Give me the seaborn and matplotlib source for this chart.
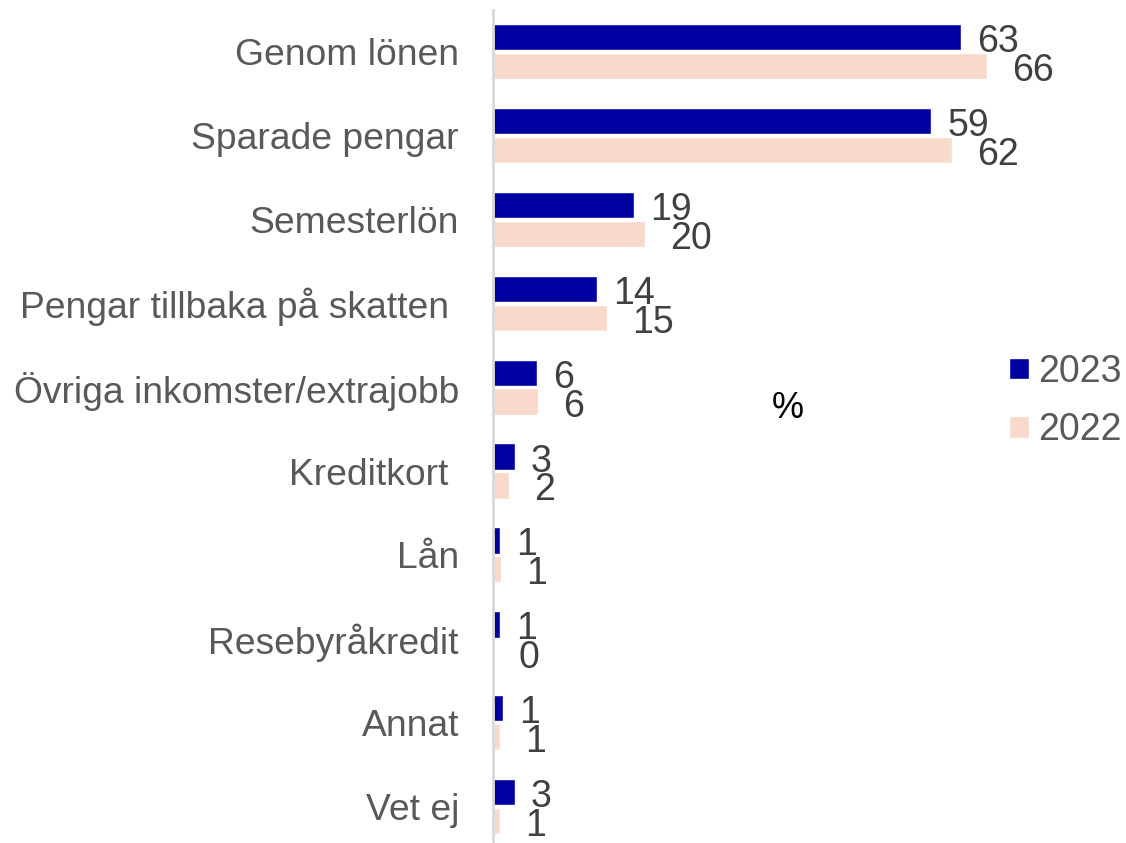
import pandas as pd
import matplotlib
matplotlib.use('Agg')
import matplotlib.pyplot as plt
import seaborn as sns

# Data (percent)
categories = ['Genom lönen', 'Sparade pengar', 'Semesterlön',
              'Pengar tillbaka på skatten ', 'Övriga inkomster/extrajobb',
              'Kreditkort ', 'Lån', 'Resebyråkredit', 'Annat', 'Vet ej']
years = ['2023', '2022']
values_2023 = [62.8, 58.8, 18.9, 14.0, 5.9, 2.95, 0.94, 0.94, 1.34, 2.95]
values_2022 = [66.3, 61.6, 20.4, 15.3, 6.0, 2.15, 1.1, 0.0, 0.94, 0.94]
colors = ['#0000A0', '#F9D9CC']

df = pd.DataFrame({
    'kategori': categories * 2,
    'år': [years[0]] * len(categories) + [years[1]] * len(categories),
    'procent': values_2023 + values_2022,
})

sns.set_style('white')
plt.rcParams['font.family'] = ['Liberation Sans', 'DejaVu Sans']

fig = plt.figure(figsize=(11.26, 8.43), dpi=100)
ax = fig.add_axes([493 / 1126, 0, 1 - 493 / 1126, 1 - 10 / 843])

sns.barplot(data=df, x='procent', y='kategori', hue='år', hue_order=years,
            palette=colors, orient='h', width=0.69, gap=0.1, ax=ax,
            saturation=1)

ax.set_xlim(0, 633 / 7.45)
ax.set_ylim(9.43, -0.49)
ax.set_xlabel('')
ax.set_ylabel('')
ax.set_xticks([])
ax.tick_params(axis='y', length=0, pad=24.5, labelsize=26.8, labelcolor='#595959')
for side in ['top', 'right', 'bottom']:
    ax.spines[side].set_visible(False)
ax.spines['left'].set_color('#D9D9D9')
ax.spines['left'].set_linewidth(2)

# value labels
offsets = [16, 25]
for cont, off in zip(ax.containers, offsets):
    for bar in cont:
        w = bar.get_width()
        ax.annotate(f'{w:.0f}', xy=(w, bar.get_y() + bar.get_height() / 2),
                    xytext=(off, -1), textcoords='offset pixels',
                    ha='left', va='center_baseline', fontsize=27, color='#404040')

handles, labels = ax.get_legend_handles_labels()
ax.legend(handles, labels, loc='center left',
          bbox_to_anchor=(1009 / 1126, 1 - 401 / 843),
          bbox_transform=fig.transFigure, frameon=False, fontsize=27,
          labelcolor='#595959', handlelength=0.52, handleheight=0.52,
          handletextpad=0.25, labelspacing=0.6, borderpad=0, borderaxespad=0)

fig.text(788 / 1126, 1 - 409 / 843, '%', ha='center', va='center',
         fontsize=26, color='black')

fig.savefig('out.png', dpi=100)
